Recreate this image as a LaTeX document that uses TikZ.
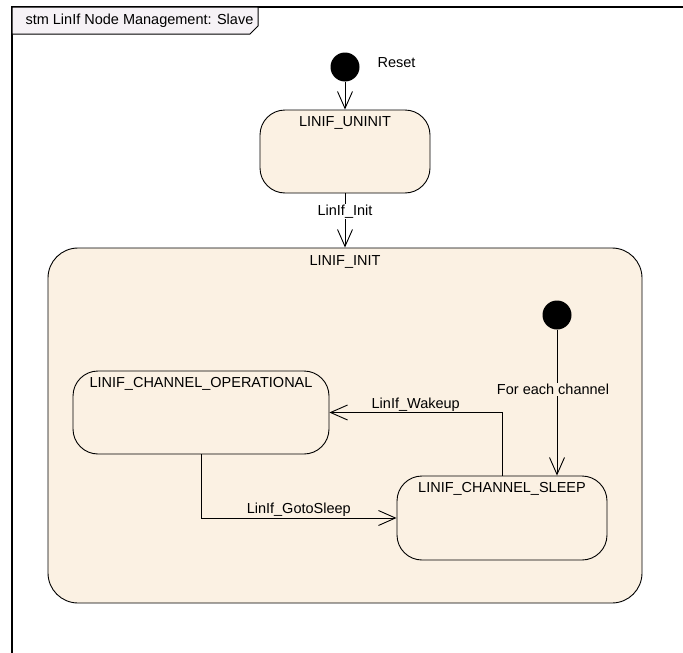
\documentclass[tikz,border=0pt]{standalone}
\usepackage{fontspec}
\setmainfont{Liberation Sans}
\usepackage{tikz}
\usetikzlibrary{arrows.meta,positioning}
\definecolor{statefill}{RGB}{251,241,227}
\definecolor{tabfill}{RGB}{246,242,246}

\begin{document}
\begin{tikzpicture}[x=1pt, y=-1pt, font=\fontsize{14.5}{16}\selectfont,
    state/.style={draw, fill=statefill, rounded corners=25pt, line width=0.9pt, inner sep=0pt},
    statename/.style={anchor=north, inner sep=0pt, yshift=-7pt},
    initial/.style={circle, fill=black, minimum size=29pt, inner sep=0pt},
    trans/.style={line width=0.9pt, -{Straight Barb[length=17pt, width=15pt, line width=0.9pt]}},
    guard/.style={inner sep=1pt}]
    \useasboundingbox (0,0) rectangle (683,653);
    \fill [white] (0,0) rectangle (683,653);
    % diagram frame and its tab
    \draw [line width=1.3pt] (12,680) -- (12,7) -- (700,7);
    \draw [fill=tabfill, line width=1pt] (12,7) -- (258,7) -- (258,26) -- (250,34) -- (12,34) -- cycle;
    \node [anchor=west] (title) at (22,20.5) {stm LinIf Node Management: Slave};
    % states
    \node [initial] (reset) at (345,67) {};
    \node [anchor=west] (resetname) at (374,63) {Reset};
    \node [state, minimum width=170pt, minimum height=83pt,
           label={[statename]north:LINIF\_UNINIT}] (uninit) at (345,151.5) {};
    \node [state, rounded corners=30pt, minimum width=594pt, minimum height=355pt,
           label={[statename,yshift=-1pt]north:LINIF\_INIT}] (init) at (345,425.5) {};
    \node [initial] (chinit) at (557,315) {};
    \node [state, minimum width=256pt, minimum height=83pt,
           label={[statename]north:LINIF\_CHANNEL\_OPERATIONAL}] (oper) at (201,412.5) {};
    \node [state, minimum width=210pt, minimum height=84pt,
           label={[statename]north:LINIF\_CHANNEL\_SLEEP}] (sleep) at (502,518) {};
    % transitions
    \draw [trans] (reset) -- (uninit);
    \draw [trans] (uninit) -- node [guard, fill=white, pos=0.33] {LinIf\_Init} (init);
    \draw [trans] (chinit) -- node [guard, fill=statefill, pos=0.41, xshift=-4pt] {For each channel} (chinit |- sleep.north);
    \draw [trans] (sleep.north) |- node [guard, above, pos=0.75] {LinIf\_Wakeup} (oper.east);
    \draw [trans] (oper.south) |- node [guard, above, pos=0.75] {LinIf\_GotoSleep} (sleep.west);
\end{tikzpicture}
\end{document}
